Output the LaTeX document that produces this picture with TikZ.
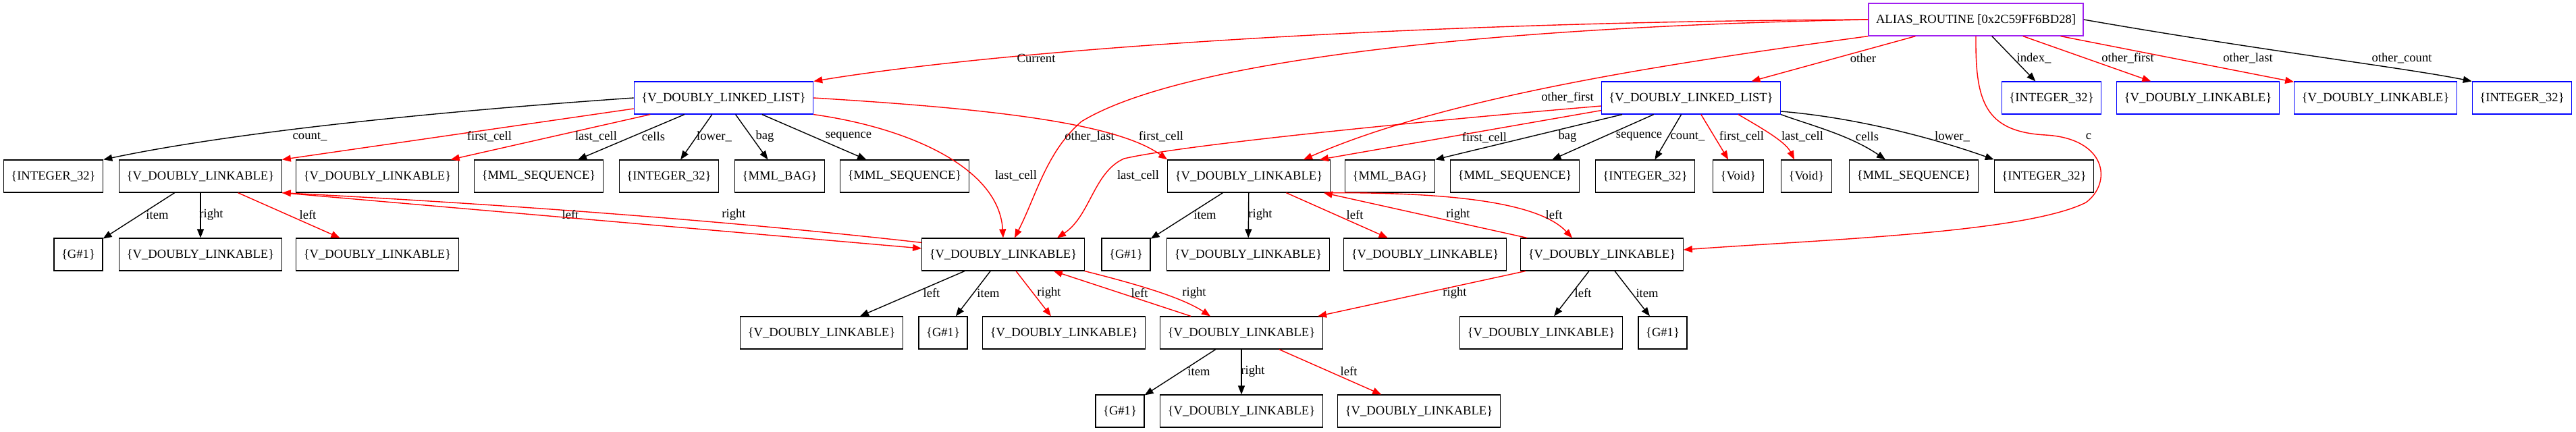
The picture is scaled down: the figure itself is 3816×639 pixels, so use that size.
\documentclass[tikz,border=0pt]{standalone}
\usepackage{fontspec}
\setmainfont{Liberation Serif}
\usetikzlibrary{arrows.meta}
\definecolor{routine}{RGB}{160,32,240}

\begin{document}
\begin{tikzpicture}[x=0.5pt, y=-0.5pt,
	cellbox/.style={draw, rectangle, line width=0.6pt, minimum height=24pt, inner xsep=5.5pt, inner ysep=0pt, font=\fontsize{9.3}{11}\selectfont},
	listbox/.style={cellbox, draw=blue},
	routinebox/.style={cellbox, draw=routine},
	link/.style={draw, line width=0.7pt, -{Triangle[length=6.5pt, width=5pt]}},
	redlink/.style={link, red},
	lbl/.style={text=black, inner sep=0pt, font=\fontsize{9.3}{11}\selectfont}]
	\useasboundingbox (0, 0) rectangle (3816, 639);

	% Define the nodes with specific positions
	\node[routinebox] (alias) at (2927, 29) {ALIAS\_ROUTINE [0x2C59FF6BD28]};

	\node[listbox] (dll1) at (1072, 145) {\{V\_DOUBLY\_LINKED\_LIST\}};
	\node[listbox] (dll2) at (2505, 145) {\{V\_DOUBLY\_LINKED\_LIST\}};
	\node[listbox] (idx) at (3039, 145) {\{INTEGER\_32\}};
	\node[listbox] (ofirst) at (3256, 145) {\{V\_DOUBLY\_LINKABLE\}};
	\node[listbox] (olast) at (3519, 145) {\{V\_DOUBLY\_LINKABLE\}};
	\node[listbox] (ocount) at (3736, 145) {\{INTEGER\_32\}};

	\node[cellbox] (cnta) at (79, 261) {\{INTEGER\_32\}};
	\node[cellbox] (fca) at (297, 261) {\{V\_DOUBLY\_LINKABLE\}};
	\node[cellbox] (lca) at (559, 261) {\{V\_DOUBLY\_LINKABLE\}};
	\node[cellbox] (cellsa) at (798, 261) {\{MML\_SEQUENCE\}};
	\node[cellbox] (lowa) at (991, 261) {\{INTEGER\_32\}};
	\node[cellbox] (baga) at (1155, 261) {\{MML\_BAG\}};
	\node[cellbox] (seqa) at (1340, 261) {\{MML\_SEQUENCE\}};
	\node[cellbox] (lnkd) at (1850, 261) {\{V\_DOUBLY\_LINKABLE\}};
	\node[cellbox] (bagb) at (2059, 261) {\{MML\_BAG\}};
	\node[cellbox] (seqb) at (2244, 261) {\{MML\_SEQUENCE\}};
	\node[cellbox] (cntb) at (2437, 261) {\{INTEGER\_32\}};
	\node[cellbox] (voida) at (2575, 261) {\{Void\}};
	\node[cellbox] (voidb) at (2676, 261) {\{Void\}};
	\node[cellbox] (cellsb) at (2835, 261) {\{MML\_SEQUENCE\}};
	\node[cellbox] (lowb) at (3028, 261) {\{INTEGER\_32\}};

	\node[cellbox] (itma) at (116, 377) {\{G\#1\}};
	\node[cellbox] (rgta) at (297, 377) {\{V\_DOUBLY\_LINKABLE\}};
	\node[cellbox] (lfta) at (559, 377) {\{V\_DOUBLY\_LINKABLE\}};
	\node[cellbox] (lnkc) at (1486, 377) {\{V\_DOUBLY\_LINKABLE\}};
	\node[cellbox] (itmd) at (1668, 377) {\{G\#1\}};
	\node[cellbox] (rgtd) at (1849, 377) {\{V\_DOUBLY\_LINKABLE\}};
	\node[cellbox] (lftd) at (2111, 377) {\{V\_DOUBLY\_LINKABLE\}};
	\node[cellbox] (lnkf) at (2373, 377) {\{V\_DOUBLY\_LINKABLE\}};

	\node[cellbox] (lftc) at (1217, 493) {\{V\_DOUBLY\_LINKABLE\}};
	\node[cellbox] (itmc) at (1397, 493) {\{G\#1\}};
	\node[cellbox] (rgtc) at (1576, 493) {\{V\_DOUBLY\_LINKABLE\}};
	\node[cellbox] (lnke) at (1839, 493) {\{V\_DOUBLY\_LINKABLE\}};
	\node[cellbox] (lftf) at (2283, 493) {\{V\_DOUBLY\_LINKABLE\}};
	\node[cellbox] (itmf) at (2463, 493) {\{G\#1\}};

	\node[cellbox] (itme) at (1659, 609) {\{G\#1\}};
	\node[cellbox] (rgte) at (1839, 609) {\{V\_DOUBLY\_LINKABLE\}};
	\node[cellbox] (lfte) at (2102, 609) {\{V\_DOUBLY\_LINKABLE\}};

	% Draw the edges between nodes with labels
	\draw[redlink] (alias.west) .. controls (2100, 32) and (1500, 72) .. (dll1.north east) node[lbl] at (1535, 86) {Current};
	\draw[redlink] (alias.west) .. controls (2200, 40) and (1750, 90) .. (1602, 180) .. controls (1550, 225) and (1535, 290) .. ([xshift=8.5pt]lnkc.north) node[lbl] at (1614, 202) {other\_last};
	\draw[redlink] (alias.south west) .. controls (2500, 90) and (2150, 140) .. ([xshift=40.5pt]lnkd.north) node[lbl] at (2322, 144) {other\_first};
	\draw[redlink] (alias) -- (dll2) node[lbl] at (2760, 86) {other};
	\draw[link] (alias) -- (idx) node[lbl] at (3013, 86) {index\_};
	\draw[redlink] (alias) -- (ofirst) node[lbl] at (3152, 86) {other\_first};
	\draw[redlink] (alias) -- (olast) node[lbl] at (3330, 86) {other\_last};
	\draw[link] (alias.east) .. controls (3350, 75) and (3560, 100) .. (ocount.north west) node[lbl] at (3558, 86) {other\_count};
	\draw[redlink] (alias.south) .. controls (2926, 150) and (2940, 195) .. (3030, 200) .. controls (3120, 205) and (3130, 270) .. (3090, 300) .. controls (3000, 345) and (2700, 355) .. ([yshift=3.5pt]lnkf.east) node[lbl] at (3094, 202) {c};

	\draw[link] (dll1.west) .. controls (650, 165) and (350, 195) .. (cnta.north east) node[lbl] at (459, 202) {count\_};
	\draw[redlink] ([yshift=-8pt]dll1.west) -- (fca.north east) node[lbl] at (725, 202) {first\_cell};
	\draw[redlink] (dll1) -- (lca) node[lbl] at (883, 202) {last\_cell};
	\draw[link] (dll1) -- (cellsa) node[lbl] at (968, 202) {cells};
	\draw[link] (dll1) -- (lowa) node[lbl] at (1058, 202) {lower\_};
	\draw[link] (dll1) -- (baga) node[lbl] at (1133, 202) {bag};
	\draw[link] (dll1) -- (seqa) node[lbl] at (1257, 202) {sequence};
	\draw[redlink] (dll1.south east) .. controls (1350, 190) and (1480, 250) .. (lnkc.north) node[lbl] at (1505, 260) {last\_cell};
	\draw[redlink] (dll1.east) .. controls (1450, 160) and (1650, 180) .. (lnkd.north west) node[lbl] at (1720, 202) {first\_cell};

	\draw[redlink] ([yshift=3pt]dll2.south west) -- ([xshift=-8pt]lnkd.north east) node[lbl] at (2199, 204) {first\_cell};
	\draw[redlink] ([yshift=-6pt]dll2.west) .. controls (2100, 180) and (1750, 215) .. (1665, 235) .. controls (1620, 255) and (1615, 320) .. ([xshift=40pt]lnkc.north) node[lbl] at (1686, 260) {last\_cell};
	\draw[link] (dll2) -- (bagb.north east) node[lbl] at (2322, 202) {bag};
	\draw[link] (dll2) -- (seqb) node[lbl] at (2428, 202) {sequence};
	\draw[link] (dll2) -- (cntb) node[lbl] at (2500, 202) {count\_};
	\draw[redlink] (dll2) -- (voida) node[lbl] at (2580, 202) {first\_cell};
	\draw[redlink] ([xshift=35pt]dll2.south) .. controls (2610, 190) and (2645, 210) .. ([xshift=-9pt]voidb.north) node[lbl] at (2670, 202) {last\_cell};
	\draw[link] (dll2.south east) .. controls (2680, 185) and (2740, 200) .. ([xshift=-21pt]cellsb.north) node[lbl] at (2766, 202) {cells};
	\draw[link] ([yshift=-10pt]dll2.east) .. controls (2760, 175) and (2880, 210) .. (lowb.north west) node[lbl] at (2892, 202) {lower\_};

	\draw[link] (fca) -- (itma) node[lbl] at (233, 318) {item};
	\draw[link] (fca) -- (rgta) node[lbl] at (313, 318) {right};
	\draw[redlink] (fca) -- (lfta) node[lbl] at (456, 318) {left};
	\draw[redlink] ([yshift=-3.5pt]lnkc.north west) .. controls (1000, 318) and (600, 295) .. (fca.south east) node[lbl] at (845, 318) {left};
	\draw[redlink] (fca.south east) -- ([yshift=4.5pt]lnkc.west) node[lbl] at (1087, 318) {right};

	\draw[link] (lnkc) -- (lftc) node[lbl] at (1380, 434) {left};
	\draw[link] (lnkc) -- (itmc) node[lbl] at (1464, 434) {item};
	\draw[redlink] (lnkc) -- (rgtc) node[lbl] at (1554, 434) {right};
	\draw[redlink] (lnkc.south east) .. controls (1680, 420) and (1750, 440) .. ([xshift=-23pt]lnke.north) node[lbl] at (1769, 434) {right};
	\draw[redlink] (lnke) -- (lnkc) node[lbl] at (1688, 434) {left};

	\draw[link] (lnkd) -- (itmd) node[lbl] at (1785, 318) {item};
	\draw[link] (lnkd) -- (rgtd) node[lbl] at (1867, 318) {right};
	\draw[redlink] (lnkd) -- (lftd) node[lbl] at (2007, 318) {left};
	\draw[redlink] (lnkf) -- (lnkd) node[lbl] at (2160, 318) {right};
	\draw[redlink] (lnkd.south east) .. controls (2150, 285) and (2280, 300) .. ([xshift=-22pt]lnkf.north) node[lbl] at (2302, 318) {left};

	\draw[redlink] (lnkf) -- (lnke) node[lbl] at (2155, 434) {right};
	\draw[link] (lnkf) -- (lftf) node[lbl] at (2345, 434) {left};
	\draw[link] (lnkf) -- (itmf) node[lbl] at (2440, 434) {item};

	\draw[link] (lnke) -- (itme) node[lbl] at (1776, 550) {item};
	\draw[link] (lnke) -- (rgte) node[lbl] at (1856, 550) {right};
	\draw[redlink] (lnke) -- (lfte) node[lbl] at (1998, 550) {left};
\end{tikzpicture}
\end{document}
